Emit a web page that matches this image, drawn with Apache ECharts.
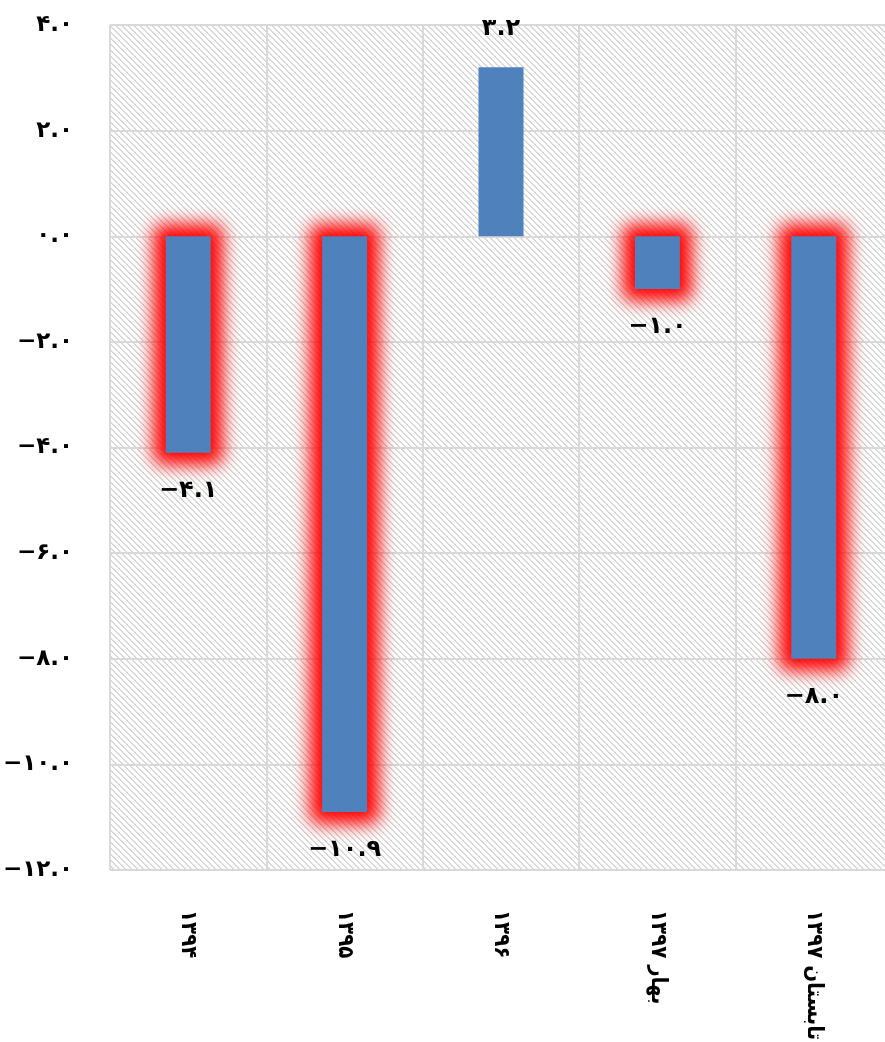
<!DOCTYPE html>
<html>
<head>
<meta charset="utf-8">
<script src="https://cdn.jsdelivr.net/npm/echarts@6/dist/echarts.min.js"></script>
<style>
html,body{margin:0;padding:0;background:#fff;}
#chart{width:885px;height:1042px;}
</style>
</head>
<body>
<div id="chart"></div>
<script>
// ---- data ----
const categories = ['۱۳۹۴', '۱۳۹۵', '۱۳۹۶', 'بهار ۱۳۹۷', 'تابستان ۱۳۹۷'];
const values = [-4.1, -10.9, 3.2, -1.0, -8.0];
const yMin = -12, yMax = 4, yStep = 2;

function fa(s) {
  return String(s).replace(/[0-9]/g, d => '۰۱۲۳۴۵۶۷۸۹'[+d]).replace('-', '−');
}

// hatch pattern
const P = 6;
const tile = document.createElement('canvas');
tile.width = P; tile.height = P;
const tc = tile.getContext('2d');
tc.fillStyle = '#ffffff'; tc.fillRect(0, 0, P, P);
for (let i = 0; i < P; i++) {
  tc.fillStyle = '#d4d4d4'; tc.fillRect(i, i, 1, 1);
  tc.fillStyle = '#dcdcdc'; tc.fillRect((i + 1) % P, i, 1, 1);
}

const BAR_W = 45;
const FONT = 'DejaVu Sans';
const XFONT = "'DejaVu Sans Condensed', 'DejaVu Sans'";
const OFF = 3000;

const chart = echarts.init(document.getElementById('chart'), null, {renderer: 'canvas'});
chart.setOption({
  animation: false,
  backgroundColor: '#ffffff',
  grid: {
    left: 110, width: 782, top: 25, height: 845,
    outerBoundsMode: 'none',
    containLabel: false,
    show: true, borderWidth: 0,
    backgroundColor: {image: tile, repeat: 'repeat'}
  },
  xAxis: {
    type: 'category',
    data: categories,
    axisLine: {show: false, onZero: false},
    axisTick: {show: false},
    splitLine: {show: true, lineStyle: {color: '#d9d9d9', width: 2}},
    axisLabel: {
      rotate: -90, margin: 40, color: '#000',
      fontFamily: XFONT, fontWeight: 'bold', fontSize: 22
    }
  },
  yAxis: {
    type: 'value',
    min: yMin, max: yMax, interval: yStep,
    axisLine: {show: false},
    axisTick: {show: false},
    splitLine: {lineStyle: {color: '#d9d9d9', width: 2}},
    axisLabel: {
      margin: 37, color: '#000',
      fontFamily: FONT, fontWeight: 'bold', fontSize: 23,
      formatter: v => fa(v.toFixed(1))
    }
  },
  series: [
    {
      type: 'custom',
      z: 1,
      clip: false,
      data: values.map((v, i) => [i, v]),
      renderItem: function (params, api) {
        const v = api.value(1);
        if (v >= 0) return null;
        const p0 = api.coord([api.value(0), 0]);
        const p1 = api.coord([api.value(0), v]);
        const pad = 12;
        const w = BAR_W + 2 * pad;
        return {
          type: 'rect',
          shape: {x: p0[0] - w / 2 + OFF, y: p0[1] - pad, width: w, height: p1[1] - p0[1] + 2 * pad, r: 8},
          style: {fill: '#ff0000', shadowBlur: 18, shadowColor: '#ff0000', shadowOffsetX: -OFF, shadowOffsetY: 0}
        };
      }
    },
    {
      type: 'bar',
      z: 3,
      data: values,
      barWidth: BAR_W,
      itemStyle: {color: '#4f81bd'},
      label: {
        show: true,
        position: 'outside',
        distance: 26,
        color: '#000',
        fontFamily: FONT, fontWeight: 'bold', fontSize: 24,
        formatter: p => fa(p.value.toFixed(1))
      }
    }
  ]
});
</script>
</body>
</html>
